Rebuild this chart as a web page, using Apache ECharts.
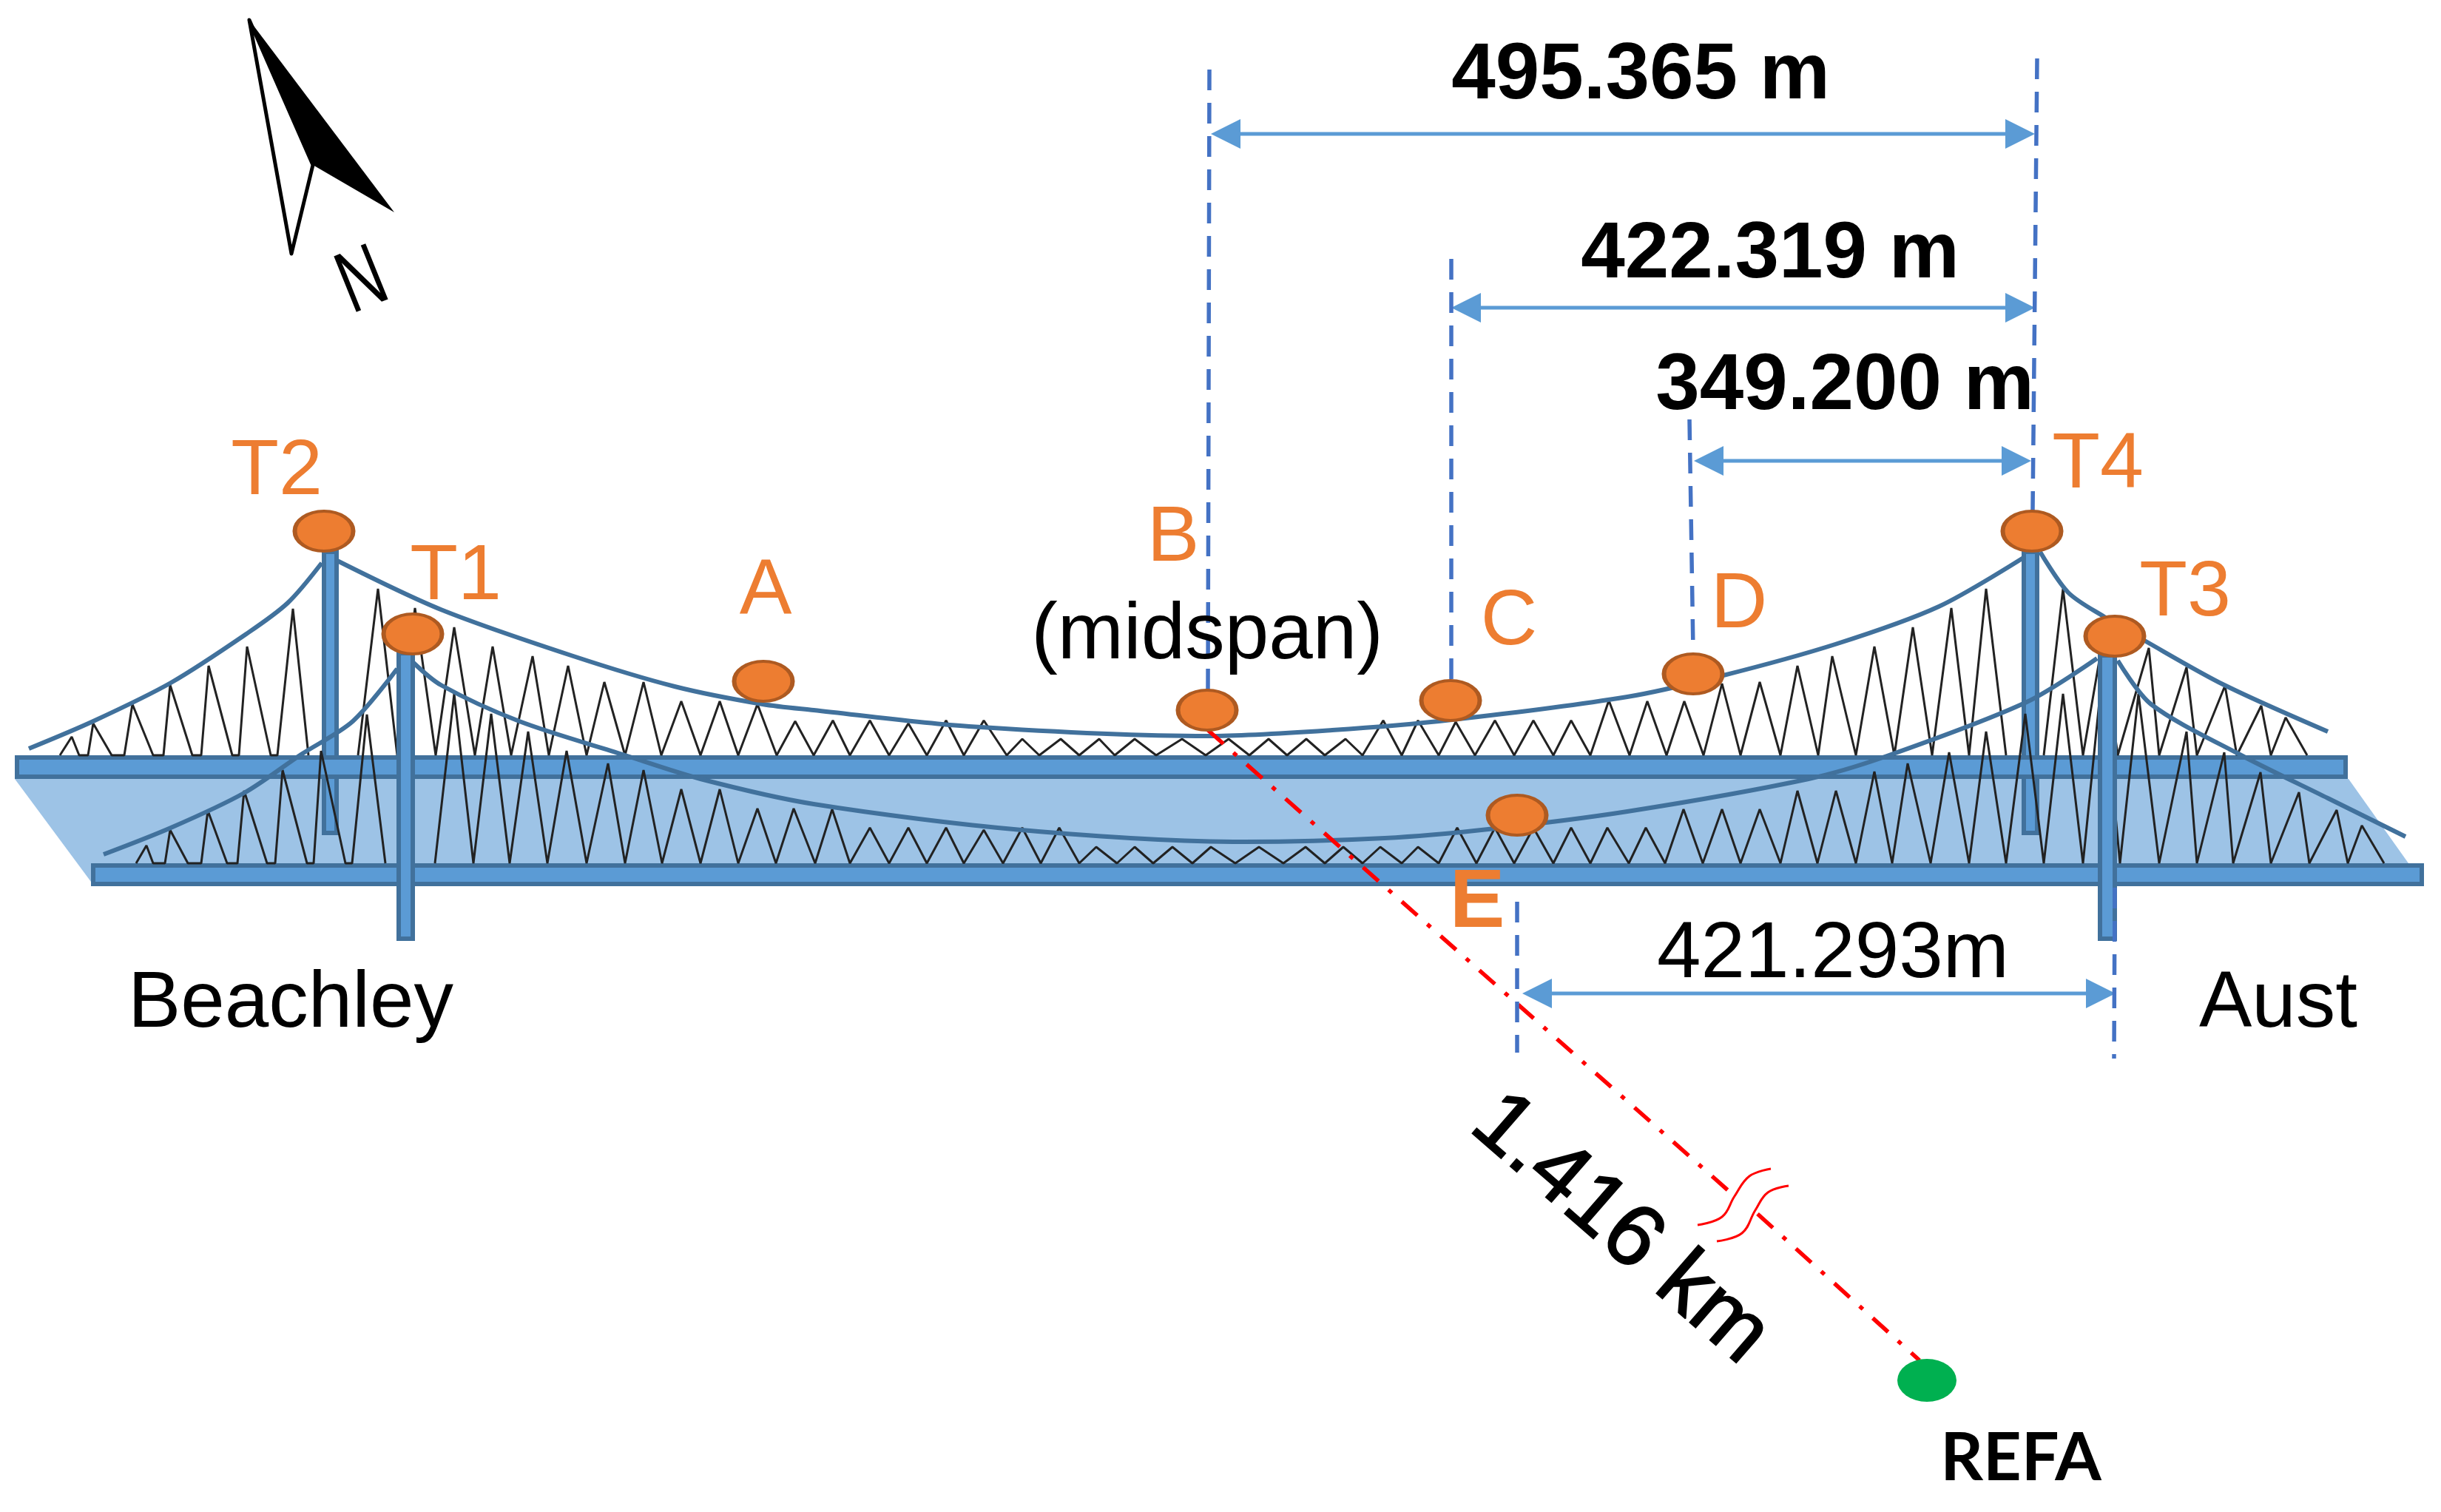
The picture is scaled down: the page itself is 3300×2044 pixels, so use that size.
<!DOCTYPE html>
<html>
<head>
<meta charset="utf-8">
<title>Bridge sensor layout</title>
<script src="https://cdn.jsdelivr.net/npm/echarts@6/dist/echarts.min.js"></script>
<style>
html, body { margin: 0; padding: 0; background: #fff; }
#main { width: 3300px; height: 2044px; }
</style>
</head>
<body>
<div id="main"></div>
<script>
// sensor points on the bridge
var pointNames = ['T2', 'T1', 'A', 'B', 'C', 'E', 'D', 'T4', 'T3'];
var pointX = [438, 558, 1032, 1632, 1961, 2051, 2289, 2747, 2859];
var pointY = [718, 857, 921, 960, 947, 1102, 911, 718, 860];
var refPoint = [2605, 1866];

// decks and towers: x0, y0, x1, y1
var decks = [[23, 1024, 3171, 1050], [126, 1170, 3274, 1195]];
var backTowers = [[438, 746, 455, 1126], [2736, 746, 2754, 1126]];
var frontTowers = [[539, 883, 558, 1269], [2839, 886, 2859, 1269]];
var roadway = [[20, 1053], [3175, 1053], [3256, 1167], [123, 1192]];

// cables
var upperBackstayLeft = [[39, 1012], [126, 975], [231, 923], [333, 857], [389, 815], [435, 761]];
var upperMain = [[456, 758], [596, 824], [772, 886], [912, 928], [1031, 952], [1100, 960], [1310, 982],
    [1633, 995], [1801, 987], [1963, 973], [2200, 942], [2326, 914], [2481, 871], [2621, 820], [2737, 753]];
var upperBackstayRight = [[2758, 746], [2796, 801], [2845, 834], [2901, 867], [3007, 926], [3147, 989]];
var lowerBackstayLeft = [[140, 1155], [231, 1119], [330, 1072], [407, 1020], [477, 975], [537, 904]];
var lowerMain = [[558, 895], [596, 926], [702, 975], [842, 1020], [947, 1053], [1100, 1087], [1381, 1122],
    [1682, 1138], [1872, 1133], [2012, 1121], [2200, 1097], [2445, 1053], [2551, 1022], [2740, 949], [2835, 890]];
var lowerBackstayRight = [[2863, 893], [2908, 952], [3028, 1020], [3147, 1079], [3252, 1131]];

// hangers, drawn as zigzags from the deck up to the cable
var upperHangersLeft = [[81, 1021], [97, 996], [107, 1021], [119, 1021], [126, 978], [151, 1021], [168, 1021], [179, 952],
    [207, 1021], [221, 1021], [230, 926], [260, 1021], [272, 1021], [282, 900], [314, 1021], [323, 1021], [334, 874],
    [366, 1021], [375, 1021], [396, 823], [417, 1021]];
var upperHangersMid = [[484, 1021], [511, 796], [537, 1021], [561, 822], [589, 1021], [614, 848], [642, 1021], [666, 874],
    [691, 1021], [720, 887], [742, 1021], [768, 900], [793, 1021], [817, 922], [845, 1021], [870, 922], [894, 1021],
    [921, 948], [947, 1021], [973, 948], [998, 1021], [1024, 952], [1050, 1021], [1075, 975], [1100, 1021],
    [1126, 974], [1149, 1021], [1176, 974], [1202, 1021], [1228, 978], [1253, 1021], [1279, 974], [1303, 1021],
    [1330, 974], [1361, 1021], [1382, 999], [1405, 1021], [1434, 999], [1459, 1021], [1486, 999], [1507, 1021],
    [1534, 999], [1563, 1021], [1598, 999], [1630, 1021], [1661, 999], [1689, 1021], [1715, 999], [1740, 1021],
    [1766, 999], [1791, 1021], [1819, 999], [1842, 1021], [1870, 974], [1895, 1021], [1917, 974], [1945, 1021],
    [1968, 976], [1994, 1021], [2021, 974], [2047, 1021], [2073, 974], [2100, 1021], [2124, 974], [2150, 1021],
    [2175, 947], [2203, 1021], [2227, 948], [2253, 1021], [2277, 948], [2303, 1021], [2328, 924], [2353, 1021],
    [2379, 922], [2407, 1021], [2430, 900], [2458, 1021], [2477, 887], [2509, 1021], [2534, 874], [2561, 1021],
    [2586, 848], [2612, 1021], [2638, 822], [2662, 1021], [2685, 796], [2712, 1021]];
var upperHangersRight = [[2763, 1021], [2789, 796], [2816, 1021], [2842, 870], [2863, 1021], [2905, 876], [2919, 1021],
    [2956, 902], [2970, 1021], [3008, 927], [3024, 1021], [3057, 954], [3070, 1021], [3090, 970], [3119, 1021]];
var lowerHangersLeft = [[184, 1167], [198, 1143], [207, 1167], [223, 1167], [230, 1122], [254, 1167], [272, 1167], [281, 1096],
    [307, 1167], [321, 1167], [330, 1069], [361, 1167], [372, 1167], [382, 1041], [415, 1167], [424, 1167], [434, 1015],
    [467, 1167], [476, 1167], [496, 966], [521, 1167]];
var lowerHangersRight = [[588, 1167], [614, 938], [640, 1167], [664, 965], [689, 1167], [714, 989], [740, 1167], [766, 1015],
    [793, 1167], [822, 1032], [845, 1167], [870, 1041], [895, 1167], [921, 1067], [947, 1167], [973, 1067], [998, 1167],
    [1024, 1093], [1049, 1167], [1073, 1093], [1102, 1167], [1125, 1094], [1149, 1167], [1176, 1119], [1202, 1167],
    [1228, 1119], [1253, 1167], [1279, 1119], [1303, 1167], [1330, 1122], [1356, 1167], [1382, 1119], [1407, 1167],
    [1432, 1119], [1459, 1167], [1482, 1145], [1510, 1167], [1534, 1145], [1559, 1167], [1585, 1145], [1612, 1167],
    [1637, 1145], [1670, 1167], [1702, 1145], [1735, 1167], [1765, 1145], [1791, 1167], [1816, 1145], [1842, 1167],
    [1866, 1145], [1895, 1167], [1917, 1145], [1945, 1167], [1970, 1119], [1996, 1167], [2021, 1119], [2047, 1167],
    [2073, 1119], [2100, 1167], [2124, 1119], [2150, 1167], [2173, 1119], [2202, 1167], [2225, 1119], [2251, 1167],
    [2276, 1094], [2302, 1167], [2328, 1094], [2353, 1167], [2379, 1094], [2407, 1167], [2430, 1069], [2457, 1167],
    [2482, 1069], [2509, 1167], [2534, 1043], [2558, 1167], [2579, 1032], [2610, 1167], [2635, 1017], [2662, 1167],
    [2685, 989], [2712, 1167], [2738, 965], [2763, 1167], [2789, 938], [2816, 1167], [2842, 910], [2866, 1167],
    [2891, 938], [2919, 1167], [2956, 989], [2970, 1167], [3007, 1017], [3019, 1167], [3056, 1044], [3070, 1167],
    [3108, 1071], [3122, 1167], [3159, 1095], [3174, 1167], [3193, 1116], [3223, 1167]];

// dimension lines
var guideLines = [
    [[1635, 94], [1633, 932]],
    [[1962, 350], [1962, 920]],
    [[2284, 567], [2289, 880]],
    [[2754, 79], [2748, 690]],
    [[2051, 1219], [2051, 1423]],
    [[2859, 1200], [2858, 1431]]
];
// x0, x1, y
var spans = [[1637, 2751, 181], [1962, 2751, 416], [2290, 2746, 623], [2058, 2860, 1343]];

// line to the reference station, with the break symbol
var refLineNear = [[1633, 987], [2345, 1617]];
var refLineFar = [[2376, 1641], [2595, 1839]];
var breakMarkA = [[2394, 1580], [2365, 1590], [2345, 1617], [2328, 1645], [2295, 1656]];
var breakMarkB = [[2418, 1603], [2390, 1612], [2373, 1636], [2355, 1667], [2321, 1678]];

// north arrow
var northDark = [[337, 27], [533, 287], [423, 223]];
var northLight = [[337, 27], [423, 223], [394, 343]];

// labels: text, x, y
var orangeLabels = [['T2', 374, 639], ['T1', 616, 781], ['A', 1035, 800], ['B', 1586, 729], ['C', 2040, 842],
    ['D', 2351, 819], ['T4', 2836, 630], ['T3', 2954, 803]];
var orangeBoldLabels = [['E', 1997, 1222]];
var spanLabels = [['495.365 m', 2218, 103], ['422.319 m', 2393, 345], ['349.200 m', 2494, 523]];
var blackLabels = [['421.293m', 2478, 1291], ['(midspan)', 1632, 860], ['Beachley', 393, 1358], ['Aust', 3080, 1358]];
var refLabel = [['REFA', 2732, 1972]];
var distanceLabel = [['1.416 km', 2190, 1662]];
var northLabel = [['N', 491, 383]];

var BLUE = '#5B9BD5', BLUE_DARK = '#41719C', ORANGE = '#ED7D31';
var SANS = '"Liberation Sans", Arial, sans-serif';

function lineSeries(pts, color, width, z, opts) {
    return Object.assign({
        type: 'line', data: pts, z: z, showSymbol: false, symbol: 'none', silent: true, clip: false,
        lineStyle: { color: color, width: width }
    }, opts || {});
}

function polygonSeries(pts, style, z) {
    return {
        type: 'custom', data: [pts[0]], z: z, silent: true, clip: false,
        renderItem: function (params, api) {
            return { type: 'polygon', shape: { points: pts.map(function (p) { return api.coord(p); }) }, style: style };
        }
    };
}

function rectSeries(rows, z) {
    return {
        type: 'custom', data: rows, z: z, silent: true, encode: { x: [0, 2], y: [1, 3] },
        renderItem: function (params, api) {
            var a = api.coord([api.value(0), api.value(1)]);
            var b = api.coord([api.value(2), api.value(3)]);
            return {
                type: 'rect',
                shape: { x: a[0], y: a[1], width: b[0] - a[0], height: b[1] - a[1] },
                style: { fill: BLUE, stroke: BLUE_DARK, lineWidth: 6 }
            };
        }
    };
}

function textSeries(rows, font, fill, z, rotation, scaleX, outline) {
    return {
        type: 'custom', data: rows.map(function (r) { return [r[1], r[2]]; }), z: z, silent: true,
        renderItem: function (params, api) {
            var c = api.coord([api.value(0), api.value(1)]);
            var style = { text: rows[params.dataIndex][0], font: font, fill: fill, align: 'center', verticalAlign: 'middle' };
            if (outline) {
                style.stroke = fill;
                style.lineWidth = outline;
            }
            return { type: 'text', x: c[0], y: c[1], rotation: rotation || 0, scaleX: scaleX || 1, style: style };
        }
    };
}

function spanSeries(rows, z) {
    return {
        type: 'custom', data: rows, z: z, silent: true, encode: { x: [0, 1], y: 2 },
        renderItem: function (params, api) {
            var a = api.coord([api.value(0), api.value(2)]);
            var b = api.coord([api.value(1), api.value(2)]);
            return {
                type: 'group',
                children: [
                    { type: 'line', shape: { x1: a[0] + 20, y1: a[1], x2: b[0] - 20, y2: b[1] }, style: { stroke: BLUE, lineWidth: 5 } },
                    { type: 'polygon', shape: { points: [[a[0], a[1]], [a[0] + 40, a[1] - 20], [a[0] + 40, a[1] + 20]] }, style: { fill: BLUE } },
                    { type: 'polygon', shape: { points: [[b[0], b[1]], [b[0] - 40, b[1] - 20], [b[0] - 40, b[1] + 20]] }, style: { fill: BLUE } }
                ]
            };
        }
    };
}

var redDash = { color: '#FF0000', width: 5.5, type: [28, 18, 6, 18] };
var hangerColor = '#222', hangerWidth = 3, cableWidth = 6;

var series = [
    polygonSeries(roadway, { fill: '#9DC3E6' }, 1),
    rectSeries(backTowers, 2),
    rectSeries(decks, 3),
    lineSeries(upperHangersLeft, hangerColor, hangerWidth, 4),
    lineSeries(upperHangersMid, hangerColor, hangerWidth, 4),
    lineSeries(upperHangersRight, hangerColor, hangerWidth, 4),
    lineSeries(upperBackstayLeft, BLUE_DARK, cableWidth, 5, { smooth: 0.3 }),
    lineSeries(upperMain, BLUE_DARK, cableWidth, 5, { smooth: 0.3 }),
    lineSeries(upperBackstayRight, BLUE_DARK, cableWidth, 5, { smooth: 0.3 }),
    lineSeries(lowerHangersLeft, hangerColor, hangerWidth, 6),
    lineSeries(lowerHangersRight, hangerColor, hangerWidth, 6),
    lineSeries(lowerBackstayLeft, BLUE_DARK, cableWidth, 7, { smooth: 0.3 }),
    lineSeries(lowerMain, BLUE_DARK, cableWidth, 7, { smooth: 0.3 }),
    lineSeries(lowerBackstayRight, BLUE_DARK, cableWidth, 7, { smooth: 0.3 }),
    rectSeries(frontTowers, 8),
    lineSeries(refLineNear, '#FF0000', 6, 9, { lineStyle: redDash }),
    lineSeries(refLineFar, '#FF0000', 6, 9, { lineStyle: redDash }),
    lineSeries(breakMarkA, '#FF0000', 3, 9, { smooth: 0.4 }),
    lineSeries(breakMarkB, '#FF0000', 3, 9, { smooth: 0.4 }),
    spanSeries(spans, 10),
    polygonSeries(northLight, { fill: '#fff', stroke: '#000', lineWidth: 5, lineJoin: 'round' }, 10),
    polygonSeries(northDark, { fill: '#000' }, 11),
    {
        type: 'scatter', z: 12, silent: true, clip: false, symbol: 'circle', symbolSize: [79, 54],
        data: pointNames.map(function (n, i) { return { name: n, value: [pointX[i], pointY[i]] }; }),
        itemStyle: { color: ORANGE, borderColor: '#AE5A21', borderWidth: 5, opacity: 1 }
    },
    {
        type: 'scatter', z: 12, silent: true, clip: false, symbol: 'circle', symbolSize: [80, 58],
        data: [refPoint],
        itemStyle: { color: '#00B050', opacity: 1 }
    },
    textSeries(orangeLabels, '106px ' + SANS, ORANGE, 13),
    textSeries(orangeBoldLabels, 'bold 112px ' + SANS, ORANGE, 13),
    textSeries(spanLabels, 'bold 107px ' + SANS, '#000', 13),
    textSeries(blackLabels, '107px ' + SANS, '#000', 13),
    textSeries(refLabel, 'bold 90px Lato, ' + SANS, '#000', 13),
    textSeries(distanceLabel, '119px ' + SANS, '#000', 13, -41 * Math.PI / 180, 1, 2),
    textSeries(northLabel, '118px ' + SANS, '#000', 13, 22 * Math.PI / 180, 0.7)
];
// guide lines go in front of the bridge but under the markers
guideLines.forEach(function (g) {
    series.push(lineSeries(g, '#4472C4', 5.5, 10, { lineStyle: { color: '#4472C4', width: 5.5, type: [28, 17] } }));
});

var chart = echarts.init(document.getElementById('main'));
chart.setOption({
    animation: false,
    backgroundColor: '#fff',
    grid: { left: 0, right: 0, top: 0, bottom: 0 },
    xAxis: { type: 'value', min: 0, max: 3300, show: false },
    yAxis: { type: 'value', min: 0, max: 2044, inverse: true, show: false },
    series: series
});
</script>
</body>
</html>
